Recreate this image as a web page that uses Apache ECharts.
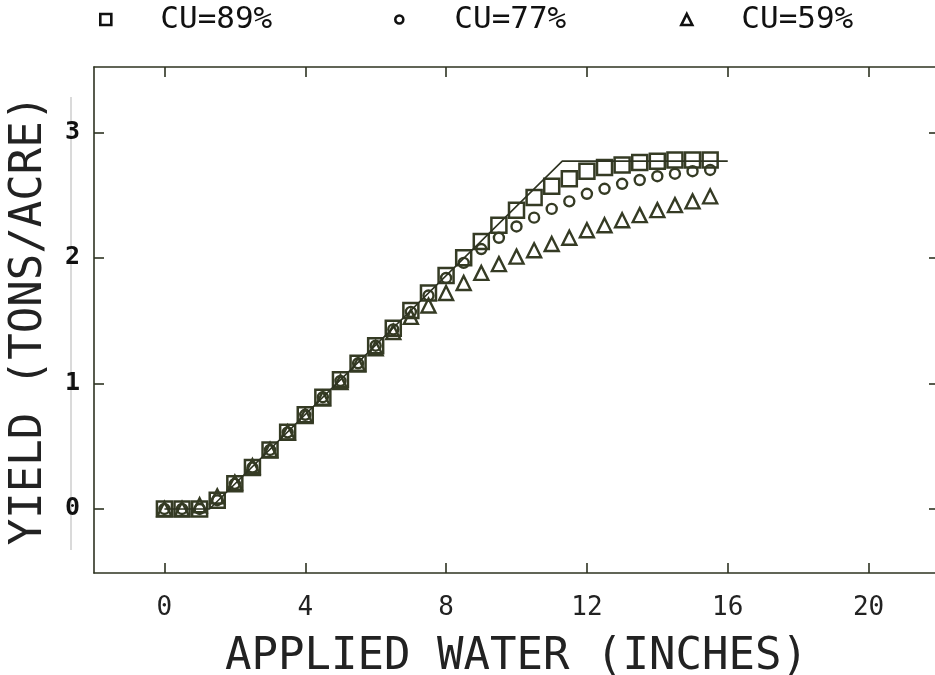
<!DOCTYPE html>
<html>
<head>
<meta charset="utf-8">
<style>html,body{margin:0;padding:0;background:#fff;}#chart{width:935px;height:675px;}</style>
<script src="https://cdn.jsdelivr.net/npm/echarts@6/dist/echarts.min.js"></script>
</head>
<body>
<div id="chart"></div>
<script>
// Applied water (inches)
const appliedWater = [0,0.5,1,1.5,2,2.5,3,3.5,4,4.5,5,5.5,6,6.5,7,7.5,8,8.5,9,9.5,10,10.5,11,11.5,12,12.5,13,13.5,14,14.5,15,15.5];
// Yield (tons/acre)
const yieldCU89 = [0,0,0,0.07,0.20,0.33,0.47,0.61,0.75,0.89,1.03,1.16,1.30,1.44,1.58,1.72,1.86,2.00,2.13,2.26,2.38,2.48,2.57,2.63,2.69,2.72,2.74,2.76,2.77,2.78,2.78,2.78];
const yieldCU77 = [0,0,0,0.07,0.20,0.33,0.47,0.61,0.75,0.89,1.02,1.16,1.30,1.43,1.57,1.70,1.84,1.96,2.07,2.16,2.25,2.32,2.39,2.45,2.51,2.55,2.59,2.62,2.65,2.67,2.69,2.70];
const yieldCU59 = [0,0,0.03,0.10,0.21,0.34,0.47,0.61,0.74,0.88,1.01,1.15,1.28,1.41,1.53,1.62,1.72,1.80,1.88,1.95,2.01,2.06,2.11,2.16,2.22,2.26,2.30,2.34,2.38,2.42,2.45,2.49];
// Production function line
const lineWater = [0,1.28,11.3,16];
const lineYield = [0,0,2.77,2.77];
const seriesNames = ['CU=89%','CU=77%','CU=59%'];
const xTicks = [0,4,8,12,16,20];
const yTicks = [0,1,2,3];

const ink = '#2e3321';
const markInk = '#353b24';
const zip = (xs, ys) => xs.map((x, i) => [x, ys[i]]);

const chart = echarts.init(document.getElementById('chart'), null, {renderer: 'canvas'});
const mono = '"DejaVu Sans Mono", monospace';

function legendAt(left, name, icon) {
  return {
    data: [{name: name, icon: icon}],
    left: left, top: -1,
    itemWidth: icon === 'circle' ? 8 : 11,
    itemHeight: icon === 'circle' ? 8 : 11,
    itemStyle: {color: '#fff', borderColor: '#111', borderWidth: 2.6},
    textStyle: {fontFamily: mono, fontSize: 31, color: '#111', padding: [0, 0, 0, icon === 'circle' ? 46 : 44]},
    selectedMode: false
  };
}

const xCommon = {
  type: 'value', min: -2, max: 22,
  axisLine: {show: true, onZero: false, lineStyle: {color: ink, width: 1.6}},
  axisTick: {show: true, inside: true, length: 10, customValues: xTicks, lineStyle: {color: ink, width: 1.6}},
  splitLine: {show: false}
};
const yCommon = {
  type: 'value', min: -0.51, max: 3.52,
  axisLine: {show: true, onZero: false, lineStyle: {color: ink, width: 1.6}},
  axisTick: {show: true, inside: true, length: 10, customValues: yTicks, lineStyle: {color: ink, width: 1.6}},
  splitLine: {show: false}
};

chart.setOption({
  backgroundColor: '#fff',
  animation: false,
  legend: [
    legendAt(94, seriesNames[0], 'rect'),
    legendAt(389, seriesNames[1], 'circle'),
    legendAt(675, seriesNames[2], 'triangle')
  ],
  grid: {left: 94, top: 67, width: 845, height: 506, containLabel: false, outerBoundsMode: 'none'},
  xAxis: [
    Object.assign({}, xCommon, {
      position: 'bottom',
      name: 'APPLIED WATER (INCHES)', nameLocation: 'middle', nameGap: 63,
      nameTextStyle: {fontFamily: mono, fontSize: 44, color: '#222'},
      axisLabel: {show: true, customValues: xTicks, margin: 22, fontFamily: mono, fontSize: 26, color: '#222'}
    }),
    Object.assign({}, xCommon, {position: 'top', axisLabel: {show: false}})
  ],
  yAxis: [
    Object.assign({}, yCommon, {
      position: 'left',
      name: 'YIELD (TONS/ACRE)', nameLocation: 'middle', nameGap: 42,
      nameTextStyle: {fontFamily: mono, fontSize: 44, color: '#222'},
      axisLabel: {show: true, customValues: yTicks, margin: 14, fontFamily: mono, fontSize: 25, fontWeight: 'bold', color: '#111'}
    }),
    Object.assign({}, yCommon, {position: 'right', axisLabel: {show: false}})
  ],
  series: [
    {
      name: 'line', type: 'line', data: zip(lineWater, lineYield),
      showSymbol: false, symbol: 'none', silent: true,
      lineStyle: {color: ink, width: 1.6}, z: 3
    },
    {
      name: seriesNames[0], type: 'scatter', data: zip(appliedWater, yieldCU89),
      symbol: 'rect', symbolSize: 15,
      itemStyle: {color: 'rgba(0,0,0,0)', borderColor: markInk, borderWidth: 2.5, opacity: 1}, z: 2
    },
    {
      name: seriesNames[1], type: 'scatter', data: zip(appliedWater, yieldCU77),
      symbol: 'circle', symbolSize: 10,
      itemStyle: {color: 'rgba(0,0,0,0)', borderColor: markInk, borderWidth: 2.4, opacity: 1}, z: 2
    },
    {
      name: seriesNames[2], type: 'scatter', data: zip(appliedWater, yieldCU59),
      symbol: 'triangle', symbolSize: 14,
      itemStyle: {color: 'rgba(0,0,0,0)', borderColor: markInk, borderWidth: 2.4, opacity: 1}, z: 2
    }
  ],
  graphic: [
    {type: 'line', shape: {x1: 71, y1: 97, x2: 71, y2: 550}, style: {stroke: '#b5b5b5', lineWidth: 1}, silent: true}
  ]
});
</script>
</body>
</html>
